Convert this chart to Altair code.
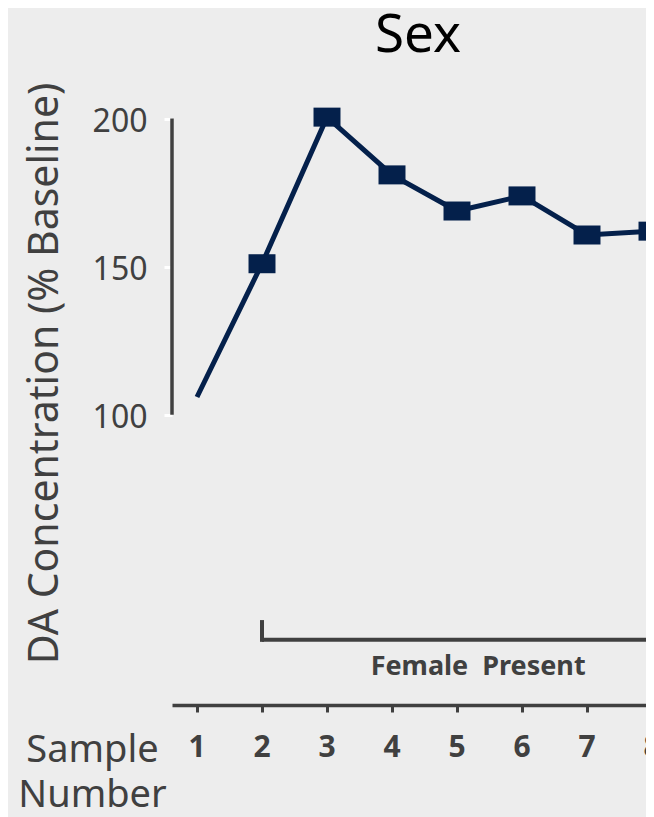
import altair as alt
import pandas as pd

# ---- data ----
samples = [1, 2, 3, 4, 5, 6, 7, 8]
da_concentration = [106, 151, 200.5, 181, 168.8, 173.9, 160.7, 162]
has_marker = [False, True, True, True, True, True, True, True]
sample_labels = ["1", "2", "3", "4", "5", "6", "7", "8"]
sample_label_level = -15.6

y_tick_values = [100, 150, 200]
y_axis_span = [100, 200]

female_start = 2
female_end = 8.65
bracket_level = 24
bracket_top = 30
female_label_level = 12
female_label = "Female\u00a0 Present"

chart_title = "Sex"
title_x = 4.4
title_level = 222.5
y_title = "DA Concentration (% Baseline)"
x_title = ["Sample", "Number"]

# ---- styles ----
NAVY = "#04204b"
GRAY = "#404040"
BG = "#ededed"
FONT = "Noto Sans"

df = pd.DataFrame({"sample": samples, "value": da_concentration, "marker": has_marker})
marker_df = df[df["marker"]]
yaxis_df = pd.DataFrame({"lo": [y_axis_span[0]], "hi": [y_axis_span[1]]})
bracket_h = pd.DataFrame({"x1": [female_start], "x2": [female_end], "y": [bracket_level]})
bracket_v = pd.DataFrame({"x": [female_start], "y1": [bracket_level], "y2": [bracket_top]})
label_df = pd.DataFrame({"x": [(female_start + female_end) / 2], "y": [female_label_level], "t": [female_label]})
title_df = pd.DataFrame({"x": [title_x], "y": [title_level], "t": [chart_title]})
xlab_df = pd.DataFrame({"x": samples, "y": [sample_label_level] * len(samples), "t": sample_labels})

xs = alt.Scale(domain=[0.61538, 7.90769], nice=False, zero=False)
ys = alt.Scale(domain=[2, 210], nice=False, zero=False)

x_axis = alt.Axis(
    values=samples, title=x_title, labels=False,
    domainColor=GRAY, domainWidth=3.5,
    tickColor=GRAY, tickSize=7, tickWidth=3, grid=False,
    titleFont=FONT, titleFontSize=38, titleFontWeight="normal", titleColor=GRAY,
    titleX=-80, titleY=56, titleAlign="center", titleBaseline="alphabetic",
    titleLineHeight=45, titleAngle=0,
)
y_axis = alt.Axis(
    values=y_tick_values, title=y_title, domain=False,
    tickColor="white", tickSize=8, tickWidth=3,
    labelFont=FONT, labelFontSize=32, labelColor=GRAY, labelPadding=17, labelOffset=3,
    grid=False,
    titleFont=FONT, titleFontSize=41, titleFontWeight="normal", titleColor=GRAY,
    titleX=-127, titleY=284, titleAlign="center", titleBaseline="middle", titleAngle=270,
)

line = alt.Chart(df).mark_line(color=NAVY, strokeWidth=5).encode(
    x=alt.X("sample:Q", scale=xs, axis=x_axis),
    y=alt.Y("value:Q", scale=ys, axis=y_axis),
)
points = alt.Chart(marker_df).mark_point(
    shape="M-1.42,-1H1.42V1H-1.42Z", filled=True, size=361, color=NAVY, opacity=1
).encode(
    x=alt.X("sample:Q", scale=xs),
    y=alt.Y("value:Q", scale=ys),
)
yaxis_line = alt.Chart(yaxis_df).mark_rule(color=GRAY, strokeWidth=3.5).encode(
    x=alt.value(0),
    y=alt.Y("lo:Q", scale=ys),
    y2="hi:Q",
)
br_h = alt.Chart(bracket_h).mark_rule(color=GRAY, strokeWidth=4).encode(
    x=alt.X("x1:Q", scale=xs), x2="x2:Q", y=alt.Y("y:Q", scale=ys)
)
br_v = alt.Chart(bracket_v).mark_rule(color=GRAY, strokeWidth=4, strokeCap="square").encode(
    x=alt.X("x:Q", scale=xs), y=alt.Y("y1:Q", scale=ys), y2="y2:Q"
)
label = alt.Chart(label_df).mark_text(
    font=FONT, fontSize=27, fontWeight="bold", color=GRAY, align="center", baseline="alphabetic"
).encode(
    x=alt.X("x:Q", scale=xs), y=alt.Y("y:Q", scale=ys), text="t:N"
)
title = alt.Chart(title_df).mark_text(
    font=FONT, fontSize=53, color="black", align="center", baseline="alphabetic"
).encode(
    x=alt.X("x:Q", scale=xs), y=alt.Y("y:Q", scale=ys), text="t:N"
)
xlabels = alt.Chart(xlab_df).mark_text(
    font=FONT, fontSize=30, fontWeight="bold", color=GRAY, align="center", baseline="alphabetic"
).encode(
    x=alt.X("x:Q", scale=xs), y=alt.Y("y:Q", scale=ys), text="t:N"
)

chart = alt.layer(yaxis_line, br_h, br_v, label, title, xlabels, line, points).properties(
    width=474, height=616,
    padding={"left": 164, "top": 81, "right": 0, "bottom": 112},
    autosize="none",
).configure(background=BG).configure_view(stroke=None)

chart.save("out.html", embed_options={"renderer": "svg", "actions": False})
